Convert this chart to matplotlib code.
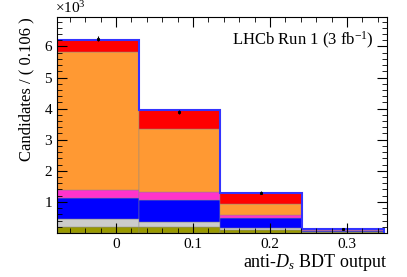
import matplotlib
matplotlib.use("Agg")
import matplotlib.pyplot as plt
import numpy as np
from matplotlib.ticker import MultipleLocator

plt.rcParams['font.family'] = ['Liberation Serif', 'DejaVu Serif']
plt.rcParams['mathtext.fontset'] = 'custom'
plt.rcParams['mathtext.rm'] = 'Liberation Serif'
plt.rcParams['mathtext.it'] = 'Liberation Serif:italic'

# bin edges (width 0.106)
edges = [-0.0766, 0.0294, 0.1354, 0.2414, 0.3474]

# stacked components, in units of 10^3 candidates (bottom -> top)
olive = [0.20, 0.20, 0.10, 0.03]
grey = [0.24, 0.15, 0.05, 0.01]
blue = [0.68, 0.71, 0.32, 0.02]
pink = [0.27, 0.27, 0.11, 0.02]
orange = [4.44, 2.02, 0.36, 0.02]
red = [0.39, 0.60, 0.34, 0.03]

# data points
data_y = [6.25, 3.88, 1.30, 0.14]
data_err = [0.08, 0.06, 0.04, 0.015]

comps = [olive, grey, blue, pink, orange, red]
cols = ['#999900', '#cccccc', '#0000ff', '#ff33cc', '#ff9933', '#ff0000']

fig = plt.figure(figsize=(4.07, 2.77), dpi=100)
ax = fig.add_axes([0.140, 0.159, 0.811, 0.780])

x0 = np.array(edges[:-1])
w = np.diff(edges)
bottom = np.zeros(4)
for vals, cc in zip(comps, cols):
    ax.bar(x0, vals, width=w, bottom=bottom, align='edge', color=cc,
           edgecolor='#888888', linewidth=0.3)
    bottom = bottom + np.array(vals)

# total outline
ax.stairs(bottom, edges, color='#3333ff', linewidth=1.5, baseline=0)

centers = x0 + w / 2
ax.errorbar(centers, data_y, yerr=data_err, fmt='s', color='black',
            markersize=1.2, elinewidth=0.8, capsize=0)

ax.set_xlim(-0.0766, 0.352)
ax.set_ylim(0, 6.95)
ax.xaxis.set_major_locator(MultipleLocator(0.1))
ax.xaxis.set_minor_locator(MultipleLocator(0.02))
ax.yaxis.set_major_locator(MultipleLocator(1))
ax.yaxis.set_minor_locator(MultipleLocator(0.2))
ax.set_xticks([0, 0.1, 0.2, 0.3])
ax.set_xticklabels(['0', '0.1', '0.2', '0.3'])
ax.set_yticks([1, 2, 3, 4, 5, 6])
ax.tick_params(which='both', direction='in', top=True, right=True, labelsize=11)
ax.tick_params(which='major', length=7, width=0.8)
ax.tick_params(which='minor', length=3.5, width=0.6)

ax.set_xlabel(r'anti-$D_s$ BDT output', fontsize=13, loc='right', labelpad=1)
ax.set_ylabel('Candidates / ( 0.106 )', fontsize=12, loc='top', labelpad=7)
ax.text(-0.005, 1.005, r'$\times10^3$', transform=ax.transAxes, fontsize=11,
        ha='left', va='bottom')
ax.text(0.96, 0.94, r'LHCb Run 1 (3 fb$^{\mathrm{-1}}$)', transform=ax.transAxes,
        fontsize=12, ha='right', va='top')

fig.savefig('out.png', dpi=100)
